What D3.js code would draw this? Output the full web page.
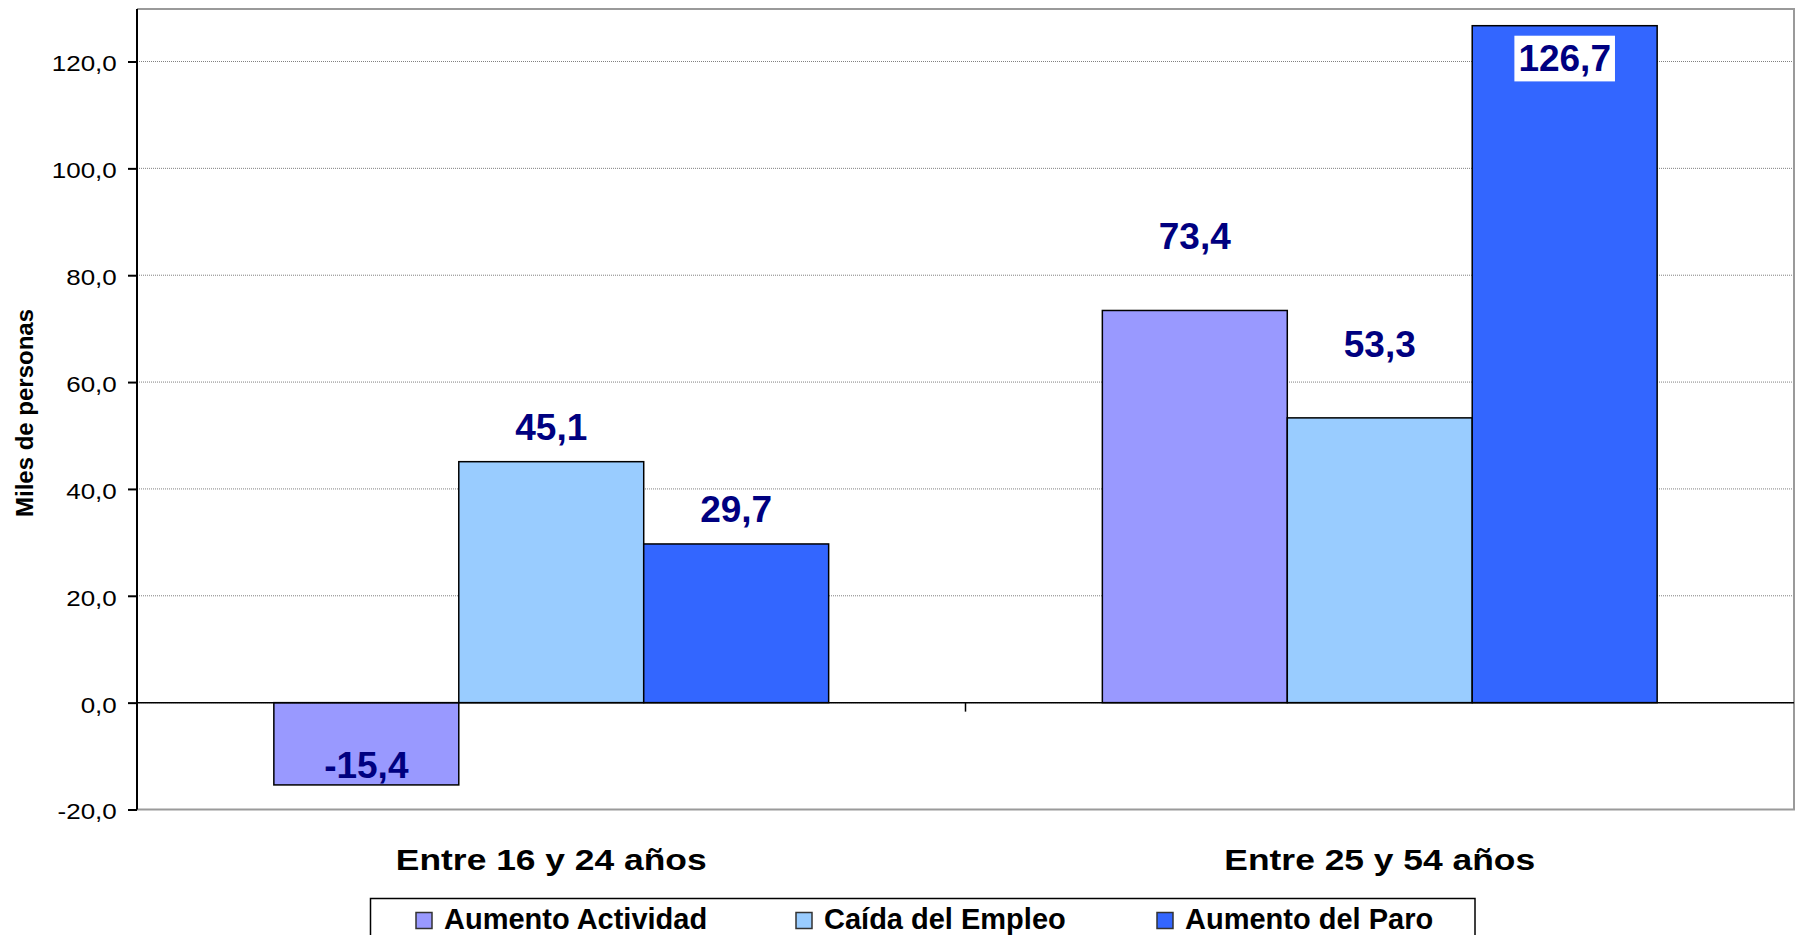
<!DOCTYPE html>
<html>
<head>
<meta charset="utf-8">
<script src="https://cdn.jsdelivr.net/npm/d3@7"></script>
<style>
  html, body { margin: 0; padding: 0; background: #fff; }
  svg { display: block; }
  text { font-family: "Liberation Sans", Arial, sans-serif; }
</style>
</head>
<body>
<svg id="chart" width="1799" height="935"></svg>
<script>
// ---- data ----
const categories = ["Entre 16 y 24 años", "Entre 25 y 54 años"];
const seriesNames = ["Aumento Actividad", "Caída del Empleo", "Aumento del Paro"];
const aumentoActividad = [-15.4, 73.4];
const caidaEmpleo = [45.1, 53.3];
const aumentoParo = [29.7, 126.7];
const yTicks = [-20, 0, 20, 40, 60, 80, 100, 120];
const yAxisTitle = "Miles de personas";

const seriesValues = [aumentoActividad, caidaEmpleo, aumentoParo];
const colors = ["#9999FF", "#99CCFF", "#3366FF"];

// ---- layout ----
const W = 1799, H = 935;
const plotLeft = 137, plotRight = 1794, plotTop = 9, plotBottom = 809.5;
const svg = d3.select("#chart");

const y = d3.scaleLinear().domain([-20, 120]).range([plotBottom, 61.5]);
const x0 = d3.scaleBand().domain(categories).range([plotLeft, plotRight]).paddingInner(0).paddingOuter(0);
const x1 = d3.scaleBand().domain(seriesNames).range([0, x0.bandwidth()]).paddingInner(0).paddingOuter(0.74);
const color = d3.scaleOrdinal().domain(seriesNames).range(colors);
const fmt = v => v.toFixed(1).replace(".", ",");

// gridlines
svg.append("g").selectAll("line").data(yTicks).join("line")
  .attr("x1", plotLeft).attr("x2", plotRight)
  .attr("y1", d => y(d)).attr("y2", d => y(d))
  .attr("stroke", "#808080").attr("stroke-width", 1).attr("stroke-dasharray", "1,1");

// plot frame (top, right, bottom)
svg.append("path")
  .attr("d", `M${plotLeft},${plotTop}H${plotRight}V${plotBottom}H${plotLeft}`)
  .attr("fill", "none").attr("stroke", "#9a9a9a").attr("stroke-width", 2);

// bars
const rows = [];
categories.forEach((c, ci) => seriesNames.forEach((s, si) => rows.push({c, ci, s, si, v: seriesValues[si][ci]})));

svg.append("g").selectAll("rect").data(rows).join("rect")
  .attr("x", d => x0(d.c) + x1(d.s))
  .attr("width", x1.bandwidth())
  .attr("y", d => Math.min(y(d.v), y(0)))
  .attr("height", d => Math.abs(y(d.v) - y(0)))
  .attr("fill", d => color(d.s))
  .attr("stroke", "#000").attr("stroke-width", 1.5);

// zero line
svg.append("line").attr("x1", plotLeft).attr("x2", plotRight)
  .attr("y1", y(0)).attr("y2", y(0)).attr("stroke", "#000").attr("stroke-width", 1.5);
// category ticks on zero line
svg.append("g").selectAll("line").data(categories.slice(1)).join("line")
  .attr("x1", d => x0(d)).attr("x2", d => x0(d))
  .attr("y1", y(0)).attr("y2", y(0) + 9)
  .attr("stroke", "#000").attr("stroke-width", 1.5);

// y axis
const yAxis = svg.append("g").attr("transform", `translate(${plotLeft},0)`)
  .call(d3.axisLeft(y).tickValues(yTicks).tickSize(9).tickFormat(fmt));
yAxis.select(".domain").remove();
yAxis.selectAll(".tick line").attr("stroke", "#000").attr("stroke-width", 2);
yAxis.selectAll(".tick text")
  .attr("x", -17.2).attr("dy", "0.43em")
  .attr("transform", "scale(1.18,1)")
  .attr("font-size", 22).attr("fill", "#000")
  .style("font-family", '"Liberation Sans", Arial, sans-serif');
svg.append("line").attr("x1", plotLeft).attr("x2", plotLeft)
  .attr("y1", plotTop).attr("y2", plotBottom)
  .attr("stroke", "#000").attr("stroke-width", 2);

// y title
svg.append("text")
  .attr("transform", "translate(33.3,413) rotate(-90)")
  .attr("text-anchor", "middle").attr("font-size", 24).attr("font-weight", "bold")
  .text(yAxisTitle);

// category labels
svg.append("g").selectAll("text").data(categories).join("text")
  .attr("transform", d => `translate(${x0(d) + x0.bandwidth() / 2},870) scale(1.18,1)`)
  .attr("text-anchor", "middle").attr("font-size", 30).attr("font-weight", "bold")
  .text(d => d);

// data labels
const maxV = d3.max(rows, d => d.v);
const labelG = svg.append("g");
rows.forEach(d => {
  const cx = x0(d.c) + x1(d.s) + x1.bandwidth() / 2;
  let by, boxed = false;
  if (d.v < 0) by = y(d.v) - 7;
  else if (d.v === maxV) { by = y(d.v) + 45.7; boxed = true; }
  else if (d.ci === 1) by = y(d.v) - 61;
  else by = y(d.v) - 22;
  const g = labelG.append("g");
  const t = g.append("text").attr("x", cx).attr("y", by)
    .attr("text-anchor", "middle").attr("font-size", 37).attr("font-weight", "bold")
    .attr("fill", "#000080").text(fmt(d.v));
  if (boxed) {
    const b = t.node().getBBox();
    g.insert("rect", "text").attr("x", b.x - 4).attr("y", by - 35.7)
      .attr("width", b.width + 8).attr("height", 45.7).attr("fill", "#fff");
  }
});

// legend
const legend = svg.append("g");
legend.append("rect").attr("x", 370.5).attr("y", 898.5).attr("width", 1104.5).attr("height", 60)
  .attr("fill", "#fff").attr("stroke", "#000").attr("stroke-width", 1.5);
const legendX = [416, 796, 1157];
seriesNames.forEach((s, i) => {
  legend.append("rect").attr("x", legendX[i]).attr("y", 912.5).attr("width", 16).attr("height", 16)
    .attr("fill", color(s)).attr("stroke", "#333").attr("stroke-width", 1.5);
  legend.append("text").attr("x", legendX[i] + 28).attr("y", 928.5)
    .attr("font-size", 29).attr("font-weight", "bold").text(s);
});
</script>
</body>
</html>
